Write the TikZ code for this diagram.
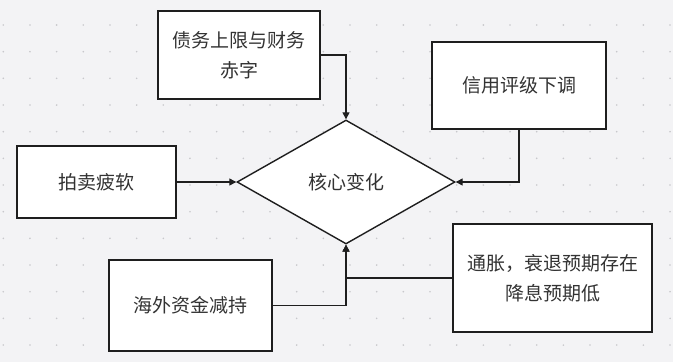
\documentclass[tikz,border=0pt]{standalone}
\usepackage{fontspec}
\setmainfont{Noto Sans CJK SC}
\usetikzlibrary{shapes.geometric,arrows.meta}
\definecolor{bgc}{HTML}{F3F3F5}
\definecolor{dotc}{HTML}{C8C8CC}
\definecolor{txt}{HTML}{333333}
\definecolor{ln}{HTML}{1E1E1E}
\tikzset{
  box/.style={draw=ln, line width=1.4pt, fill=white, inner sep=0pt, text=txt,
    font=\fontsize{19}{30}\selectfont, align=center},
  conn/.style={draw=ln, line width=1.3pt, -{Triangle[width=7pt,length=7pt]}},
}
\begin{document}
\begin{tikzpicture}[x=1pt,y=-1pt]
\useasboundingbox (0,0) rectangle (673,362);
\fill[bgc] (0,0) rectangle (673,362);
\foreach \i in {0,...,25} \foreach \j in {0,...,14}
  \fill[dotc] (3.3+26.67*\i, -1.67+26.67*\j) circle (0.9pt);
\node[box, minimum width=162pt, minimum height=88pt] (b1) at (239,55) {债务上限与财务\\赤字};
\node[box, minimum width=174pt, minimum height=87pt] (b2) at (519,85.5) {信用评级下调};
\node[box, minimum width=159pt, minimum height=72pt] (b3) at (96.5,182) {拍卖疲软};
\node[box, minimum width=163pt, minimum height=91pt] (b4) at (190.5,305.5) {海外资金减持};
\node[box, minimum width=199pt, minimum height=108pt] (b5) at (552.5,278) {通胀，衰退预期存在\\降息预期低};
\node[box, shape=diamond, minimum width=218pt, minimum height=124pt] (dia) at (346,182) {核心变化};
\draw[conn] (b1.east) -| (dia.north);
\draw[conn] (b2.south) |- (dia.east);
\draw[conn] (b3.east) -- (dia.west);
\draw[conn] (b4.east) -| (dia.south);
\draw[conn] (b5.west) -| (dia.south);
\end{tikzpicture}
\end{document}
